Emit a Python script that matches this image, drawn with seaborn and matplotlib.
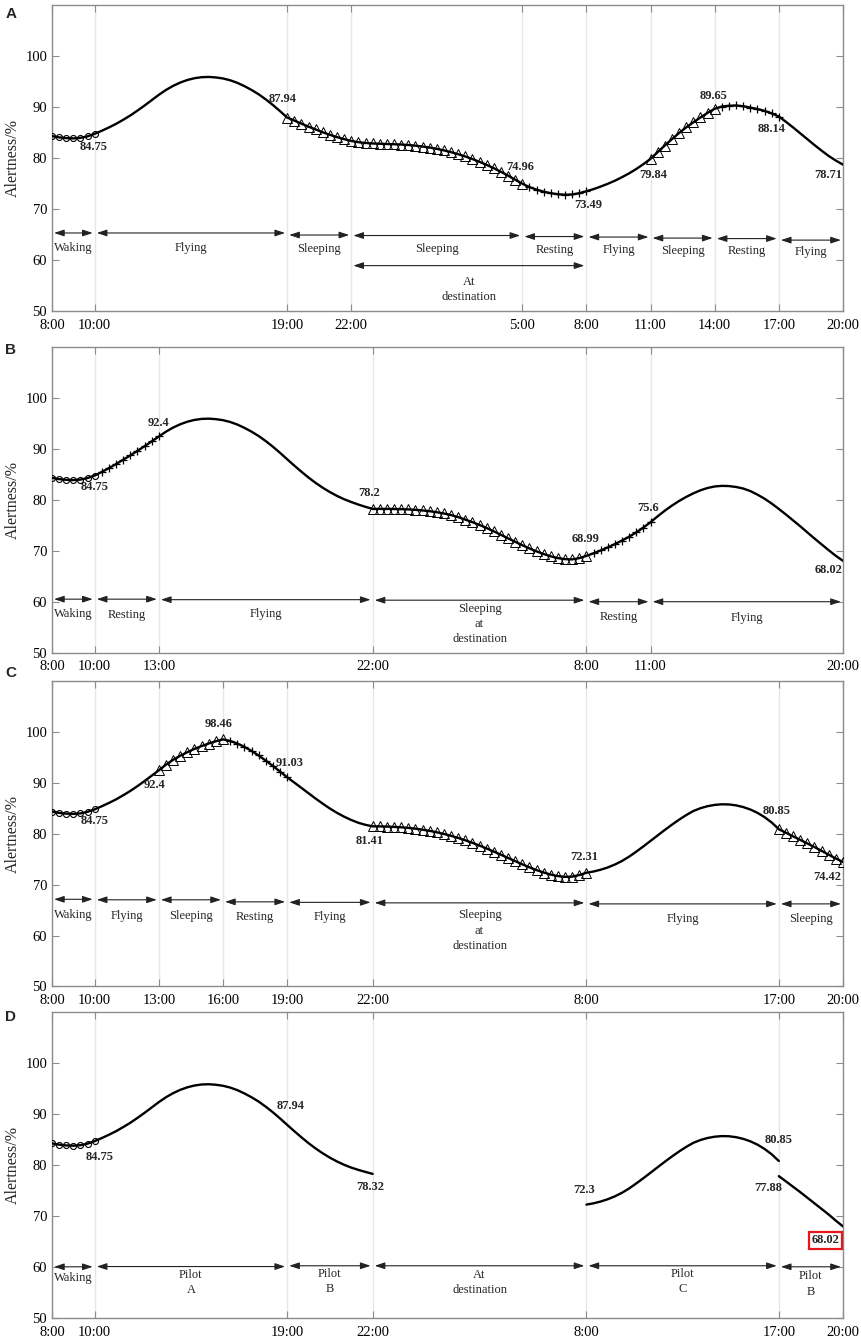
import numpy as np
import matplotlib
matplotlib.use("Agg")
import matplotlib.pyplot as plt
import seaborn as sns

# Alertness (%) every 20 min of elapsed time.
# Elapsed hour 0 = 8:00 on departure day, 37 = 20:00 next day (local clocks jump at destination).

A_alert = [
    84.3, 84.05, 83.9,      # 0
    83.85, 83.95, 84.25,    # 1
    84.75, 85.35, 86.0,     # 2
    86.7, 87.5, 88.35,      # 3
    89.3, 90.3, 91.35,      # 4
    92.4, 93.35, 94.15,     # 5
    94.8, 95.3, 95.65,      # 6
    95.85, 95.9, 95.8,      # 7
    95.6, 95.25, 94.75,     # 8
    94.1, 93.35, 92.5,      # 9
    91.5, 90.4, 89.2,       # 10
    87.94, 87.35, 86.75,    # 11
    86.15, 85.6, 85.05,     # 12
    84.55, 84.1, 83.7,      # 13
    83.35, 83.1, 82.95,     # 14
    82.85, 82.8, 82.75,     # 15
    82.7, 82.65, 82.55,     # 16
    82.42, 82.25, 82.05,    # 17
    81.8, 81.5, 81.15,      # 18
    80.75, 80.3, 79.8,      # 19
    79.25, 78.65, 78.0,     # 20
    77.3, 76.55, 75.75,     # 21
    74.96, 74.3, 73.8,      # 22
    73.4, 73.1, 72.9,       # 23
    72.8, 72.85, 73.1,      # 24
    73.49, 73.9, 74.4,      # 25
    74.95, 75.55, 76.25,    # 26
    77.0, 77.85, 78.8,      # 27
    79.84, 81.15, 82.45,    # 28
    83.7, 84.9, 86.0,       # 29
    87.0, 87.95, 88.85,     # 30
    89.65, 90.1, 90.25,     # 31
    90.3, 90.15, 89.9,      # 32
    89.6, 89.25, 88.75,     # 33
    88.14, 87.1, 86.0,      # 34
    84.85, 83.7, 82.55,     # 35
    81.45, 80.4, 79.5,      # 36
    78.71,                  # 37
]

B_alert = [
    84.3, 84.05, 83.9,      # 0
    83.85, 83.95, 84.25,    # 1
    84.75, 85.45, 86.2,     # 2
    87.0, 87.85, 88.7,      # 3
    89.6, 90.5, 91.45,      # 4
    92.4, 93.35, 94.15,     # 5
    94.8, 95.3, 95.65,      # 6
    95.85, 95.9, 95.8,      # 7
    95.6, 95.25, 94.75,     # 8
    94.1, 93.35, 92.5,      # 9
    91.5, 90.4, 89.2,       # 10
    87.94, 86.7, 85.5,      # 11
    84.35, 83.3, 82.35,     # 12
    81.5, 80.75, 80.1,      # 13
    79.55, 79.05, 78.6,     # 14
    78.2, 78.2, 78.2,       # 15
    78.18, 78.15, 78.1,     # 16
    78.02, 77.9, 77.75,     # 17
    77.55, 77.3, 77.0,      # 18
    76.6, 76.1, 75.6,       # 19
    75.05, 74.45, 73.8,     # 20
    73.12, 72.43, 71.75,    # 21
    71.08, 70.45, 69.87,    # 22
    69.35, 68.9, 68.55,     # 23
    68.35, 68.3, 68.55,     # 24
    68.99, 69.5, 70.05,     # 25
    70.65, 71.3, 72.0,      # 26
    72.75, 73.6, 74.55,     # 27
    75.6, 76.75, 77.85,     # 28
    78.85, 79.75, 80.55,    # 29
    81.25, 81.85, 82.3,     # 30
    82.6, 82.72, 82.68,     # 31
    82.5, 82.2, 81.7,       # 32
    81.0, 80.2, 79.25,      # 33
    78.2, 77.1, 75.95,      # 34
    74.8, 73.6, 72.4,       # 35
    71.25, 70.1, 69.0,      # 36
    68.02,                  # 37
]

C_alert = [
    84.3, 84.05, 83.9,      # 0
    83.85, 83.95, 84.25,    # 1
    84.75, 85.35, 86.0,     # 2
    86.7, 87.5, 88.35,      # 3
    89.3, 90.3, 91.35,      # 4
    92.4, 93.5, 94.45,      # 5
    95.25, 95.95, 96.6,     # 6
    97.15, 97.65, 98.1,     # 7
    98.46, 98.15, 97.65,    # 8
    97.0, 96.2, 95.3,       # 9
    94.3, 93.25, 92.15,     # 10
    91.03, 90.0, 88.95,     # 11
    87.9, 86.85, 85.85,     # 12
    84.9, 84.05, 83.3,      # 13
    82.65, 82.1, 81.7,      # 14
    81.41, 81.4, 81.36,     # 15
    81.3, 81.22, 81.1,      # 16
    80.95, 80.76, 80.52,    # 17
    80.24, 79.92, 79.55,    # 18
    79.13, 78.67, 78.17,    # 19
    77.63, 77.06, 76.46,    # 20
    75.84, 75.21, 74.58,    # 21
    73.96, 73.37, 72.83,    # 22
    72.35, 71.95, 71.65,    # 23
    71.5, 71.55, 71.85,     # 24
    72.31, 72.55, 72.9,     # 25
    73.35, 73.92, 74.62,    # 26
    75.47, 76.45, 77.48,    # 27
    78.55, 79.63, 80.7,     # 28
    81.73, 82.71, 83.61,    # 29
    84.41, 84.96, 85.36,    # 30
    85.61, 85.73, 85.7,     # 31
    85.52, 85.19, 84.71,    # 32
    84.06, 83.21, 82.16,    # 33
    80.85, 80.15, 79.45,    # 34
    78.75, 78.05, 77.35,    # 35
    76.6, 75.85, 75.1,      # 36
    74.42,                  # 37
]

# panel D: three separate pieces (no curve while at destination, pilot change at 17:00)
D_alert_1 = [
    84.3, 84.05, 83.9,      # 0
    83.85, 83.95, 84.25,    # 1
    84.75, 85.35, 86.0,     # 2
    86.7, 87.5, 88.35,      # 3
    89.3, 90.3, 91.35,      # 4
    92.4, 93.35, 94.15,     # 5
    94.8, 95.3, 95.65,      # 6
    95.85, 95.9, 95.8,      # 7
    95.6, 95.25, 94.75,     # 8
    94.1, 93.35, 92.5,      # 9
    91.5, 90.4, 89.2,       # 10
    87.94, 86.7, 85.5,      # 11
    84.35, 83.3, 82.35,     # 12
    81.5, 80.75, 80.1,      # 13
    79.55, 79.1, 78.7,      # 14
    78.32,                  # 15
]
D_alert_2 = [
    72.3, 72.55, 72.9,      # 25
    73.35, 73.92, 74.62,    # 26
    75.47, 76.45, 77.48,    # 27
    78.55, 79.63, 80.7,     # 28
    81.73, 82.71, 83.61,    # 29
    84.41, 84.96, 85.36,    # 30
    85.61, 85.73, 85.7,     # 31
    85.52, 85.19, 84.71,    # 32
    84.06, 83.21, 82.16,    # 33
    80.85,                  # 34
]
D_alert_3 = [77.88, 76.85, 75.8, 74.75, 73.65, 72.55, 71.45, 70.35, 69.15, 68.02]  # 34..37

# phases: (start hour, end hour, label)
A_phases = [(0, 2, "Waking"), (2, 11, "Flying"), (11, 14, "Sleeping"), (14, 22, "Sleeping"),
            (22, 25, "Resting"), (25, 28, "Flying"), (28, 31, "Sleeping"), (31, 34, "Resting"),
            (34, 37, "Flying")]
A_extra = [(14, 25, "At\ndestination")]
B_phases = [(0, 2, "Waking"), (2, 5, "Resting"), (5, 15, "Flying"),
            (15, 25, "Sleeping\nat\ndestination"), (25, 28, "Resting"), (28, 37, "Flying")]
C_phases = [(0, 2, "Waking"), (2, 5, "Flying"), (5, 8, "Sleeping"), (8, 11, "Resting"),
            (11, 15, "Flying"), (15, 25, "Sleeping\nat\ndestination"), (25, 34, "Flying"),
            (34, 37, "Sleeping")]
D_phases = [(0, 2, "Waking"), (2, 11, "Pilot\nA"), (11, 15, "Pilot\nB"), (15, 25, "At\ndestination"),
            (25, 34, "Pilot\nC"), (34, 37, "Pilot\nB")]

# x tick positions (elapsed hours) and local clock labels
A_ticks = [0, 2, 11, 14, 22, 25, 28, 31, 34, 37]
A_ticklabels = ["8:00", "10:00", "19:00", "22:00", "5:00", "8:00", "11:00", "14:00", "17:00", "20:00"]
B_ticks = [0, 2, 5, 15, 25, 28, 37]
B_ticklabels = ["8:00", "10:00", "13:00", "22:00", "8:00", "11:00", "20:00"]
C_ticks = [0, 2, 5, 8, 11, 15, 25, 34, 37]
C_ticklabels = ["8:00", "10:00", "13:00", "16:00", "19:00", "22:00", "8:00", "17:00", "20:00"]
D_ticks = [0, 2, 11, 15, 25, 34, 37]
D_ticklabels = ["8:00", "10:00", "19:00", "22:00", "8:00", "17:00", "20:00"]

# value labels (x, y, text)
A_notes = [(1.93, 82.2, "84.75"), (10.79, 91.5, "87.94"), (21.92, 78.2, "74.96"), (25.08, 70.7, "73.49"),
           (28.12, 76.7, "79.84"), (30.93, 92.2, "89.65"), (33.66, 85.6, "88.14"), (36.31, 76.7, "78.71")]
B_notes = [(1.98, 82.4, "84.75"), (4.97, 95.0, "92.4"), (14.84, 81.4, "78.2"), (24.98, 72.3, "68.99"),
           (27.9, 78.3, "75.6"), (36.34, 66.2, "68.02")]
C_notes = [(2.01, 82.45, "84.75"), (4.79, 89.6, "92.4"), (7.78, 101.5, "98.46"), (11.13, 93.8, "91.03"),
           (14.84, 78.5, "81.41"), (24.9, 75.3, "72.31"), (33.9, 84.4, "80.85"), (36.26, 71.4, "74.42")]
D_notes = [(2.25, 81.7, "84.75"), (11.16, 91.6, "87.94"), (14.87, 75.8, "78.32"), (24.88, 75.2, "72.3"),
           (33.97, 85.0, "80.85"), (33.5, 75.6, "77.88")]
D_boxed = (36.2, 65.35, "68.02")

# layout of the phase arrows (arrow height, top of its label)
A_arrow_y = [65.3, 65.3, 64.9, 64.8, 64.6, 64.5, 64.3, 64.2, 63.9]
A_text_y = [63.5, 63.5, 63.4, 63.3, 63.2, 63.1, 63.0, 62.95, 62.8]
A_extra_arrow_y = [58.9]
A_extra_text_y = [56.9]
B_arrow_y = [60.5, 60.5, 60.4, 60.3, 60.0, 60.0]
B_text_y = [58.8, 58.65, 58.8, 59.8, 58.15, 58.0]
C_arrow_y = [67.1, 67.0, 67.0, 66.6, 66.5, 66.4, 66.2, 66.2]
C_text_y = [65.1, 65.0, 65.0, 64.9, 64.9, 65.1, 64.5, 64.4]
D_arrow_y = [60.1, 60.15, 60.3, 60.3, 60.3, 60.1]
D_text_y = [59.1, 59.6, 59.9, 59.6, 59.9, 59.4]

MARKERS = {"Waking": ("o", 4.3, 0.8), "Sleeping": ("^", 6.8, 0.7), "Resting": ("+", 6.2, 0.9)}

sns.set_style("ticks")
plt.rcParams["font.family"] = ["Liberation Serif", "DejaVu Serif"]

frame = "#8c8c8c"
fig = plt.figure(figsize=(8.62, 13.39), dpi=100)

panels = [
    ("A", 0.76774, [(0, A_alert)], A_phases, A_arrow_y, A_text_y, A_ticks, A_ticklabels, A_notes),
    ("B", 0.51254, [(0, B_alert)], B_phases, B_arrow_y, B_text_y, B_ticks, B_ticklabels, B_notes),
    ("C", 0.26326, [(0, C_alert)], C_phases, C_arrow_y, C_text_y, C_ticks, C_ticklabels, C_notes),
    ("D", 0.01546, [(0, D_alert_1), (25, D_alert_2), (34, D_alert_3)], D_phases, D_arrow_y, D_text_y,
     D_ticks, D_ticklabels, D_notes),
]
letter_y = {"A": 13.8, "B": 350, "C": 673, "D": 1016.7}

for letter, bottom, curves, phases, arrow_y, text_y, ticks, ticklabels, notes in panels:
    ax = fig.add_axes([0.0603, bottom, 0.9176, 0.2285])

    # curve pieces
    pieces = []
    for start, vals in curves:
        xs = start + np.arange(len(vals)) / 3.0
        ys = np.array(vals)
        pieces.append((xs, ys))
        sns.lineplot(x=xs, y=ys, ax=ax, color="black", linewidth=1.7,
                     estimator=None, sort=False, legend=False, zorder=3)

    # phase markers
    prev_marked = False
    for start, end, label in phases:
        key = label.split("\n")[0]
        if letter == "D" and key != "Waking":
            key = None
        if key not in MARKERS:
            prev_marked = False
            continue
        mk, ms, mw = MARKERS[key]
        xm, ym = [], []
        for xs, ys in pieces:
            lo = start + 1e-6 if prev_marked else start - 1e-6
            sel = (xs >= lo) & (xs <= end + 1e-6)
            xm.extend(xs[sel])
            ym.extend(ys[sel])
        sns.lineplot(x=xm, y=ym, ax=ax, estimator=None, sort=False, legend=False,
                     linestyle="", marker=mk, markersize=ms, mfc="none", mec="black",
                     mew=mw, color="black", zorder=4)
        prev_marked = True

    # phase arrows and their labels
    rows = [(phases, arrow_y, text_y)]
    if letter == "A":
        rows.append((A_extra, A_extra_arrow_y, A_extra_text_y))
    for row, ay, ty in rows:
        for (start, end, label), yy, tt in zip(row, ay, ty):
            ax.annotate("", xy=(end, yy), xytext=(start, yy),
                        arrowprops=dict(arrowstyle="<|-|>,head_length=0.6,head_width=0.2",
                                        color="#222222", lw=0.8, shrinkA=1.5, shrinkB=1.5,
                                        mutation_scale=10))
            ax.text((start + end) / 2, tt, label, ha="center", va="top", fontsize=9,
                    linespacing=1.35)

    for x, y, s in notes:
        ax.text(x, y, s, ha="center", va="center", fontsize=9, fontweight="bold")
    if letter == "D":
        bx, by, bs = D_boxed
        ax.text(bx, by, bs, ha="center", va="center", fontsize=9, fontweight="bold",
                bbox=dict(boxstyle="square,pad=0.2", fc="none", ec="#e8161b", lw=1.6))

    ax.set_xlim(0, 37)
    ax.set_ylim(50, 110)
    ax.set_xticks(ticks)
    ax.set_xticklabels(ticklabels)
    ax.set_yticks([50, 60, 70, 80, 90, 100])
    ax.grid(axis="x", color="#e6e6e6", linewidth=1.0, zorder=0)
    ax.set_axisbelow(True)
    ax.tick_params(direction="in", length=5, width=0.8, color=frame, top=True, right=True,
                   labelsize=10.5, labelcolor="black")
    ax.tick_params(axis="x", pad=5.5)
    for sp in ax.spines.values():
        sp.set_color(frame)
        sp.set_linewidth(1.0)
    ax.set_ylabel("Alertness/%", fontsize=11.5)
    ax.yaxis.set_label_coords(-0.039, 0.5)
    ax.set_xlabel("")

    fig.text(10.8 / 862, 1 - letter_y[letter] / 1339, letter, ha="center", va="center",
             fontsize=11, fontweight="bold", family=["Liberation Sans", "DejaVu Sans"])

fig.savefig("out.png", dpi=100)
